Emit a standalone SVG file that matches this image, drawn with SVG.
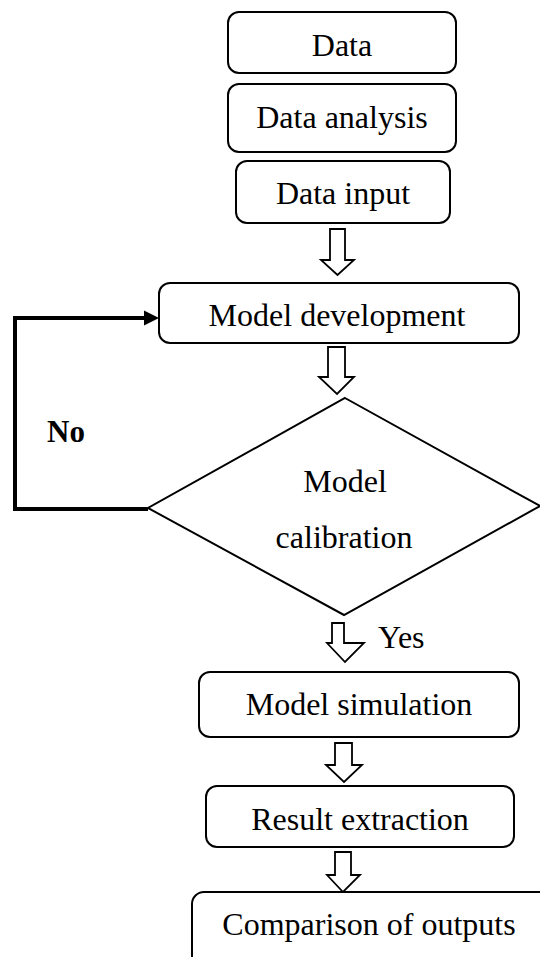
<svg xmlns="http://www.w3.org/2000/svg" width="540" height="957" viewBox="0 0 540 957">
<style>
.box{fill:#fff;stroke:#000;stroke-width:2}
.dia{fill:#fff;stroke:#000;stroke-width:2;stroke-linejoin:miter}
.blk{fill:#fff;stroke:#000;stroke-width:1.8;stroke-linejoin:miter}
.fb{fill:none;stroke:#000;stroke-width:4;stroke-linejoin:miter}
.head{fill:#000;stroke:none}
text{font-family:"Liberation Serif","Times New Roman",Times,serif;font-size:32px;fill:#000}
.c{text-anchor:middle}
.b{font-weight:bold;font-size:31px}
</style>
<rect width="540" height="957" fill="#fff"/>
<g id="data"><rect class="box" x="228" y="12" width="228" height="61" rx="11"/><text class="c" x="342" y="56" font-family="Liberation Serif, serif">Data</text></g>
<g id="analysis"><rect class="box" x="228" y="84" width="228" height="68" rx="11"/><text class="c" x="342" y="128" font-family="Liberation Serif, serif">Data analysis</text></g>
<g id="input"><rect class="box" x="236" y="161" width="214" height="62" rx="11"/><text class="c" x="343" y="204" font-family="Liberation Serif, serif">Data input</text></g>
<g id="development"><rect class="box" x="159" y="283" width="360" height="60" rx="11"/><text class="c" x="337" y="326" font-family="Liberation Serif, serif">Model development</text></g>
<g id="calibration"><polygon class="dia" points="345,398 540,506 344,615 148,508"/><text class="c" x="345" y="492" font-family="Liberation Serif, serif">Model</text><text class="c" x="344" y="548" font-family="Liberation Serif, serif">calibration</text></g>
<g id="simulation"><rect class="box" x="199" y="672" width="320" height="65" rx="11"/><text class="c" x="359" y="715" font-family="Liberation Serif, serif">Model simulation</text></g>
<g id="extraction"><rect class="box" x="206" y="786" width="308" height="61" rx="11"/><text class="c" x="360" y="830" font-family="Liberation Serif, serif">Result extraction</text></g>
<g id="comparison"><rect class="box" x="192" y="892" width="370" height="90" rx="12"/><text class="c" x="369" y="935" font-family="Liberation Serif, serif">Comparison of outputs</text></g>
<g id="connectors">
<polygon class="blk" points="330,229 345,229 345,260 354,260 337.5,275 321,260 330,260"/>
<polygon class="blk" points="328,347 345,347 345,377 354,377 337,394 319,377 328,377"/>
<polygon class="blk" points="332,623 344,623 344,643 364,643 345,662 327,643 332,643"/>
<polygon class="blk" points="335,743 352,743 352,765 362,765 344,782 326,765 335,765"/>
<polygon class="blk" points="335,852 351,852 351,875 360,875 343,892 327,875 335,875"/>
<polyline class="fb" points="148,509 15,509 15,318 145,318"/>
<polygon class="head" points="159,318 144,310.5 144,325.5"/>
<text class="b" x="47" y="442" font-family="Liberation Serif, serif">No</text>
<text x="378" y="648" font-family="Liberation Serif, serif">Yes</text>
</g>
</svg>
